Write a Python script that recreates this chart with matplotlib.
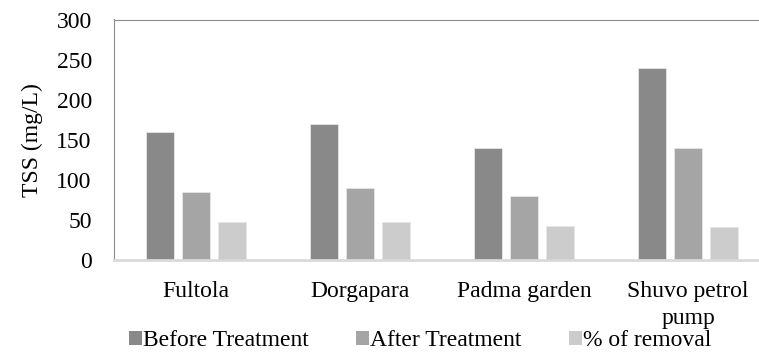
import numpy as np
import matplotlib.pyplot as plt
from matplotlib.patches import Patch

# data
sites = ["Fultola", "Dorgapara", "Padma garden", "Shuvo petrol\npump"]
before = [160, 170, 140, 240]
after = [85, 90, 80, 140]
removal = [46.9, 47.1, 42.9, 41.7]
series_names = ["Before Treatment", "After Treatment", "% of removal"]
colors = ["#898989", "#a5a5a5", "#cccccc"]

plt.rcParams['font.family'] = ['Liberation Serif', 'DejaVu Serif']
plt.rcParams['font.size'] = 17

fig = plt.figure(figsize=(7.59, 3.54), dpi=100)
W, H = 759, 354
ax = fig.add_axes([114 / W, (H - 260) / H, (770 - 114) / W, (260 - 19.5) / H])

x = np.arange(len(sites))
w = 0.17
step = 0.22
for i, (vals, c) in enumerate(zip([before, after, removal], colors)):
    ax.bar(x + (i - 1) * step, vals, width=w, color=c,
           edgecolor="#e6e6e6", linewidth=0.6, zorder=2)

ax.set_xlim(-0.5, len(sites) - 0.5)
ax.set_ylim(0, 300)
ax.set_yticks(range(0, 301, 50))
ax.set_xticks(x)
ax.set_xticklabels(sites, linespacing=1.4)
ax.tick_params(axis='both', length=0)
ax.tick_params(axis='y', pad=16)
ax.tick_params(axis='x', pad=15)
ax.set_ylabel("TSS (mg/L)", labelpad=10)

ax.spines['left'].set_color("#8c8c8c")
ax.spines['top'].set_color("#8c8c8c")
ax.spines['right'].set_visible(False)
ax.spines['bottom'].set_color("#d9d9d9")
ax.spines['bottom'].set_linewidth(2)

handles = [Patch(facecolor=c, edgecolor="none") for c in colors]
leg = fig.legend(handles, series_names, loc='center', bbox_to_anchor=(420 / W, 1 - 341 / H),
                 ncol=3, frameon=True, handlelength=0.55, handleheight=0.55,
                 handletextpad=0.05, columnspacing=2.0, borderpad=0)
leg.get_frame().set_linewidth(0)
leg.get_frame().set_facecolor("none")

fig.savefig("out.png", dpi=100)
